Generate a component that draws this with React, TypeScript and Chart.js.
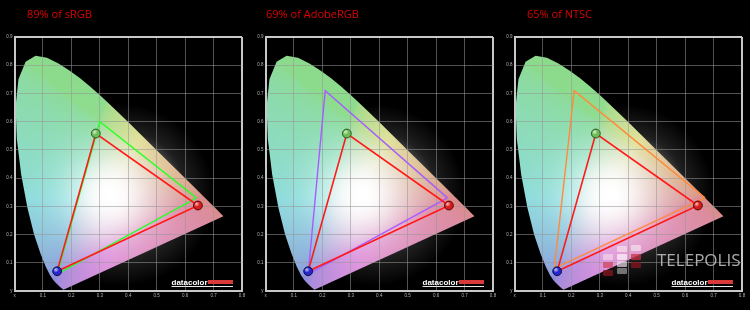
import React, { useEffect, useRef } from 'react';
import { Chart, registerables } from 'chart.js';

Chart.register(...registerables);

// CIE 1931 spectral locus (chromaticity x / y), 380 nm -> 700 nm
const LOCUS_X = [0.1741, 0.1738, 0.1733, 0.1726, 0.1714, 0.1689, 0.1644, 0.1566, 0.144, 0.1355, 0.1241, 0.1096, 0.0913, 0.0687, 0.0454, 0.0235, 0.0082, 0.0039, 0.0139, 0.0389, 0.0743, 0.1142, 0.1547, 0.1929, 0.2296, 0.2658, 0.3016, 0.3373, 0.3731, 0.4087, 0.4441, 0.4788, 0.5125, 0.5448, 0.5752, 0.6029, 0.627, 0.6482, 0.6658, 0.6801, 0.6915, 0.7006, 0.7079, 0.714, 0.719, 0.7347];
const LOCUS_Y = [0.005, 0.0049, 0.0048, 0.0048, 0.0051, 0.0069, 0.0109, 0.0177, 0.0297, 0.0399, 0.0578, 0.0868, 0.1327, 0.2007, 0.295, 0.4127, 0.5384, 0.6548, 0.7502, 0.812, 0.8338, 0.8262, 0.8059, 0.7816, 0.7543, 0.7243, 0.6923, 0.6589, 0.6245, 0.5896, 0.5547, 0.5202, 0.4866, 0.4544, 0.4242, 0.3965, 0.3725, 0.3514, 0.334, 0.3197, 0.3083, 0.2993, 0.292, 0.2859, 0.2809, 0.2653];

// measured primaries (R, G, B)
const MEASURED_X = [0.645, 0.286, 0.15];
const MEASURED_Y = [0.303, 0.558, 0.07];

// reference gamuts (R, G, B)
const SRGB_X = [0.64, 0.3, 0.15];
const SRGB_Y = [0.33, 0.6, 0.06];
const ADOBE_X = [0.64, 0.21, 0.15];
const ADOBE_Y = [0.33, 0.71, 0.06];
const NTSC_X = [0.67, 0.21, 0.14];
const NTSC_Y = [0.33, 0.71, 0.08];

const TITLES = ['89% of sRGB', '69% of AdobeRGB', '65% of NTSC'];
const X_TICKS = [0, 0.1, 0.2, 0.3, 0.4, 0.5, 0.6, 0.7, 0.8];
const Y_TICKS = [0, 0.1, 0.2, 0.3, 0.4, 0.5, 0.6, 0.7, 0.8, 0.9];
const X_ZERO_LABEL = 'x';
const Y_ZERO_LABEL = 'y';

const PANELS = [
  { title: TITLES[0], refX: SRGB_X, refY: SRGB_Y, refColor: '#2bff2b' },
  { title: TITLES[1], refX: ADOBE_X, refY: ADOBE_Y, refColor: '#a65cff' },
  { title: TITLES[2], refX: NTSC_X, refY: NTSC_Y, refColor: '#ff8a3c' },
];
const PANEL_LEFT = [0, 251, 500];
const TITLE_LEFT = [27, 266, 527];

function chromaColor(cx: number, cy: number): [number, number, number] {
  const yy = Math.max(cy, 0.004);
  const X = cx / yy;
  const Z = (1 - cx - cy) / yy;
  let r = 3.2406 * X - 1.5372 - 0.4986 * Z;
  let g = -0.9689 * X + 1.8758 + 0.0415 * Z;
  let b = 0.0557 * X - 0.204 + 1.057 * Z;
  r = Math.max(r, 0); g = Math.max(g, 0); b = Math.max(b, 0);
  const m = Math.max(r, g, b) || 1;
  r = Math.pow(r / m, 1 / 2.2); g = Math.pow(g / m, 1 / 2.2); b = Math.pow(b / m, 1 / 2.2);
  const d = Math.hypot(cx - 0.34, cy - 0.34);
  const glow = Math.exp(-(d / 0.16) * (d / 0.16));
  const w = 0.64 + 0.36 * glow;
  const br = 0.86 + 0.14 * glow;
  return [(r * (1 - w) + w) * br * 255, (g * (1 - w) + w) * br * 255, (b * (1 - w) + w) * br * 255];
}

const locusPlugin = {
  id: 'locusFill',
  beforeDraw(chart: any) {
    const { ctx, chartArea: a, scales } = chart;
    const xs = scales.x, ys = scales.y;
    ctx.save();
    ctx.fillStyle = '#000';
    ctx.fillRect(0, 0, chart.width, chart.height);
    // glow around white point
    const gx = xs.getPixelForValue(0.38), gy = ys.getPixelForValue(0.34);
    const gr = xs.getPixelForValue(0.38 + 0.32) - gx;
    const grad = ctx.createRadialGradient(gx, gy, 0, gx, gy, gr);
    grad.addColorStop(0, 'rgba(255,255,255,1)');
    grad.addColorStop(0.3, 'rgba(255,255,255,0.65)');
    grad.addColorStop(0.5, 'rgba(255,255,255,0.36)');
    grad.addColorStop(0.7, 'rgba(255,255,255,0.12)');
    grad.addColorStop(1, 'rgba(255,255,255,0)');
    ctx.fillStyle = grad;
    ctx.fillRect(a.left, a.top, a.right - a.left, a.bottom - a.top);
    // locus
    const path = new Path2D();
    LOCUS_X.forEach((vx, i) => {
      const px = xs.getPixelForValue(vx), py = ys.getPixelForValue(LOCUS_Y[i]);
      if (i === 0) path.moveTo(px, py); else path.lineTo(px, py);
    });
    path.closePath();
    const left = Math.floor(a.left), top = Math.floor(a.top);
    const w = Math.ceil(a.right) - left, h = Math.ceil(a.bottom) - top;
    const off = document.createElement('canvas');
    off.width = w; off.height = h;
    const octx = off.getContext('2d')!;
    const img = octx.createImageData(w, h);
    for (let j = 0; j < h; j++) {
      const vy = ys.getValueForPixel(top + j + 0.5);
      for (let i = 0; i < w; i++) {
        const vx = xs.getValueForPixel(left + i + 0.5);
        const c = chromaColor(vx, vy);
        const k = (j * w + i) * 4;
        img.data[k] = c[0]; img.data[k + 1] = c[1]; img.data[k + 2] = c[2]; img.data[k + 3] = 255;
      }
    }
    octx.putImageData(img, 0, 0);
    ctx.clip(path);
    ctx.drawImage(off, left, top);
    ctx.restore();
  },
  afterDatasetsDraw(chart: any) {
    const { ctx } = chart;
    const meta = chart.getDatasetMeta(0);
    ctx.save();
    meta.data.forEach((pt: any) => {
      const g = ctx.createRadialGradient(pt.x - 1.3, pt.y - 1.6, 0.2, pt.x - 1.3, pt.y - 1.6, 3);
      g.addColorStop(0, 'rgba(255,255,255,0.7)');
      g.addColorStop(1, 'rgba(255,255,255,0)');
      ctx.fillStyle = g;
      ctx.beginPath();
      ctx.arc(pt.x, pt.y, 3.6, 0, Math.PI * 2);
      ctx.fill();
    });
    ctx.restore();
  },
  afterDraw(chart: any) {
    const { ctx, chartArea: a } = chart;
    ctx.save();
    const right = a.right - 9;
    const base = a.bottom - 6;
    ctx.font = 'bold 8px "Liberation Sans", Arial, sans-serif';
    ctx.textBaseline = 'alphabetic';
    ctx.textAlign = 'left';
    const tw = ctx.measureText('datacolor').width;
    ctx.fillStyle = '#d83a3a';
    ctx.fillRect(right - 25, base - 5, 25, 4);
    ctx.fillStyle = '#ffffff';
    ctx.fillText('datacolor', right - 25 - tw - 0.5, base);
    ctx.fillStyle = '#e8e8e8';
    ctx.fillRect(right - 25 - tw - 0.5, base + 1, tw + 25.5, 1);
    ctx.restore();
  },
};

function Panel({ index }: { index: number }) {
  const ref = useRef<HTMLCanvasElement>(null);
  useEffect(() => {
    const p = PANELS[index];
    const close = (xs: number[], ys: number[]) => [...xs, xs[0]].map((v, i) => ({ x: v, y: [...ys, ys[0]][i] }));
    const gridColor = (max: number) => (c: any) => (Math.abs(c.tick.value - max) < 1e-6 ? '#c8c8c8' : 'rgba(150,150,150,0.55)');
    const gridWidth = (max: number) => (c: any) => (Math.abs(c.tick.value - max) < 1e-6 ? 2 : 1);
    const chart = new Chart(ref.current!, {
      type: 'scatter',
      data: {
        datasets: [
          {
            data: MEASURED_X.map((v, i) => ({ x: v, y: MEASURED_Y[i] })),
            pointRadius: 4.4,
            pointBackgroundColor: ['#d81c1c', '#6cbf55', '#2626d0'],
            pointBorderColor: ['#5a0000', '#2b5520', '#0c0c40'],
            pointBorderWidth: 1,
            showLine: false,
          } as any,
          {
            data: close(MEASURED_X, MEASURED_Y),
            showLine: true,
            borderColor: '#ff1a1a',
            borderWidth: 1.6,
            pointRadius: 0,
            tension: 0,
          },
          {
            data: close(p.refX, p.refY),
            showLine: true,
            borderColor: p.refColor,
            borderWidth: 1.4,
            pointRadius: 0,
            tension: 0,
          },
        ],
      },
      options: {
        animation: false,
        responsive: false,
        devicePixelRatio: 1,
        layout: { padding: { left: 0, right: 8, top: 37, bottom: 0 } },
        plugins: { legend: { display: false }, tooltip: { enabled: false }, title: { display: false } },
        scales: {
          x: {
            type: 'linear',
            min: 0,
            max: 0.8,
            afterFit: (s: any) => { s.height = 19; },
            afterBuildTicks: (s: any) => { s.ticks = X_TICKS.map((v) => ({ value: v })); },
            ticks: {
              autoSkip: false,
              maxRotation: 0,
              padding: 2,
              color: '#b4b4b4',
              font: { size: 4.5, family: 'Liberation Sans, Arial, sans-serif' },
              callback: (v: any) => (Number(v) === 0 ? X_ZERO_LABEL : Number(v).toFixed(1)),
            },
            grid: { color: gridColor(0.8), lineWidth: gridWidth(0.8), drawTicks: false },
            border: { display: true, color: '#c8c8c8', width: 2 },
          },
          y: {
            type: 'linear',
            min: 0,
            max: 0.9,
            afterFit: (s: any) => { s.width = 14.5; },
            afterBuildTicks: (s: any) => { s.ticks = Y_TICKS.map((v) => ({ value: v })); },
            ticks: {
              autoSkip: false,
              padding: 2,
              color: '#b4b4b4',
              font: { size: 4.5, family: 'Liberation Sans, Arial, sans-serif' },
              callback: (v: any) => (Number(v) === 0 ? Y_ZERO_LABEL : Number(v).toFixed(1)),
            },
            grid: { color: gridColor(0.9), lineWidth: gridWidth(0.9), drawTicks: false },
            border: { display: true, color: '#c8c8c8', width: 2 },
          },
        },
      },
      plugins: [locusPlugin],
    } as any);
    return () => chart.destroy();
  }, [index]);
  return (
    <canvas
      ref={ref}
      width={250}
      height={310}
      style={{ position: 'absolute', left: PANEL_LEFT[index], top: 0, width: 250, height: 310 }}
    />
  );
}

const LOGO_BLOCKS = [
  { l: 617, t: 246, c: 'rgba(245,225,235,0.7)' },
  { l: 631, t: 245, c: 'rgba(245,225,235,0.7)' },
  { l: 603, t: 254, c: 'rgba(240,215,230,0.7)' },
  { l: 617, t: 254, c: 'rgba(250,240,245,0.75)' },
  { l: 631, t: 254, c: 'rgba(200,50,70,0.75)' },
  { l: 603, t: 262, c: 'rgba(205,70,90,0.75)' },
  { l: 617, t: 261, c: 'rgba(240,220,235,0.7)' },
  { l: 631, t: 262, c: 'rgba(130,20,30,0.8)' },
  { l: 603, t: 270, c: 'rgba(130,20,30,0.8)' },
  { l: 617, t: 268, c: 'rgba(150,150,150,0.75)' },
];

export default function App() {
  useEffect(() => {
    document.body.style.margin = '0';
    document.body.style.background = '#000';
  }, []);
  return (
    <div style={{ position: 'relative', width: 750, height: 310, background: '#000', overflow: 'hidden' }}>
      {PANELS.map((_, i) => (
        <Panel key={i} index={i} />
      ))}
      {PANELS.map((p, i) => (
        <div
          key={'t' + i}
          style={{
            position: 'absolute',
            left: TITLE_LEFT[i],
            top: 8,
            fontFamily: '"Open Sans", sans-serif',
            fontSize: 11,
            lineHeight: '12px',
            color: '#dc0000',
            whiteSpace: 'nowrap',
          }}
        >
          {p.title}
        </div>
      ))}
      {LOGO_BLOCKS.map((b, i) => (
        <div
          key={'b' + i}
          style={{ position: 'absolute', left: b.l, top: b.t, width: 10, height: 6, background: b.c, borderRadius: 1 }}
        />
      ))}
      <div
        style={{
          position: 'absolute',
          left: 657,
          top: 251,
          fontFamily: '"Open Sans", sans-serif',
          fontSize: 17,
          lineHeight: '17px',
          color: 'rgba(200,200,200,0.85)',
          whiteSpace: 'nowrap',
        }}
      >
        TELEPOLIS
      </div>
    </div>
  );
}
